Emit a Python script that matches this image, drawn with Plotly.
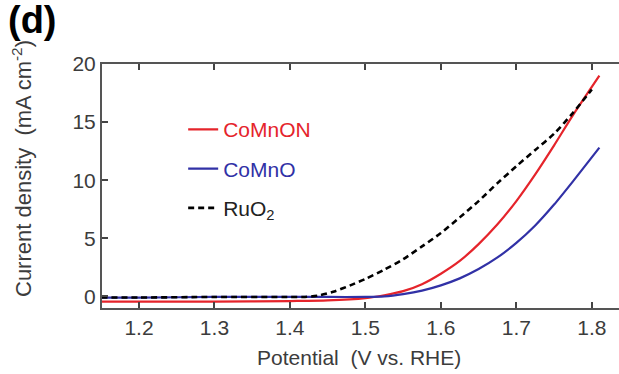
import plotly.graph_objects as go

# ---- data ----
red_x = [1.15, 1.20, 1.30, 1.40, 1.45, 1.50, 1.525, 1.55, 1.575, 1.60, 1.625, 1.65, 1.675, 1.70, 1.725, 1.75, 1.775, 1.81]
red_y = [-0.45, -0.45, -0.45, -0.40, -0.35, -0.15, 0.10, 0.45, 1.05, 1.95, 3.05, 4.50, 6.20, 8.20, 10.50, 13.00, 15.60, 19.00]

blue_x = [1.15, 1.20, 1.30, 1.40, 1.45, 1.50, 1.525, 1.55, 1.575, 1.60, 1.625, 1.65, 1.675, 1.70, 1.725, 1.75, 1.775, 1.81]
blue_y = [-0.10, -0.10, -0.05, -0.05, -0.05, -0.05, 0.00, 0.20, 0.50, 0.95, 1.55, 2.35, 3.35, 4.60, 6.10, 7.90, 9.90, 12.80]

black_x = [1.15, 1.20, 1.30, 1.40, 1.42, 1.44, 1.46, 1.48, 1.50, 1.525, 1.55, 1.575, 1.60, 1.625, 1.65, 1.675, 1.70, 1.725, 1.75, 1.775, 1.80]
black_y = [-0.10, -0.10, -0.05, -0.05, -0.05, 0.10, 0.45, 0.95, 1.50, 2.30, 3.20, 4.30, 5.45, 6.80, 8.20, 9.75, 11.20, 12.60, 14.00, 15.80, 17.80]

x_ticks = [1.2, 1.3, 1.4, 1.5, 1.6, 1.7, 1.8]
y_ticks = [0, 5, 10, 15, 20]

RED = "#e5242b"
BLUE = "#3131a6"
TXT = "#3c3c3c"
FONT = "Arial, Liberation Sans, sans-serif"

fig = go.Figure()
fig.add_trace(go.Scatter(x=red_x, y=red_y, mode="lines",
                         line=dict(color=RED, width=2.2, shape="spline", smoothing=0.7),
                         name=f"<span style='color:{RED}'>CoMnON</span>", legendgroup="a"))
fig.add_trace(go.Scatter(x=blue_x, y=blue_y, mode="lines",
                         line=dict(color=BLUE, width=2.2, shape="spline", smoothing=0.7),
                         name=f"<span style='color:{BLUE}'>CoMnO</span>", legendgroup="b"))
fig.add_trace(go.Scatter(x=black_x, y=black_y, mode="lines",
                         line=dict(color="black", width=2.6, dash="6px,4px", shape="spline", smoothing=0.7),
                         name="RuO<sub>2</sub>", legendgroup="c"))

fig.update_layout(
    width=619, height=374,
    margin=dict(l=102, r=0, t=64, b=66),
    paper_bgcolor="white", plot_bgcolor="white",
    font=dict(family=FONT, size=21, color=TXT),
    showlegend=True,
    legend=dict(x=0.157, y=0.815, xanchor="left", yanchor="top", bgcolor="rgba(0,0,0,0)",
                font=dict(size=21, color="#222"), traceorder="grouped", tracegroupgap=9,
                itemwidth=30),
    xaxis=dict(range=[1.151, 1.836], tickvals=x_ticks, ticktext=[f"{v:.1f}" for v in x_ticks],
               ticks="inside", ticklen=6, tickwidth=1.5, tickcolor="#444",
               showline=True, linecolor="#555", linewidth=2, mirror="ticks",
               showgrid=False, zeroline=False, tickfont=dict(size=21, color=TXT)),
    yaxis=dict(range=[-1.0, 20], tickvals=y_ticks,
               ticks="inside", ticklen=6, tickwidth=1.5, tickcolor="#444",
               showline=True, linecolor="#555", linewidth=2, mirror=False,
               showgrid=False, zeroline=False, tickfont=dict(size=21, color=TXT)),
    annotations=[
        dict(text="<b>(d)</b>", x=0.0, y=1.0, xref="paper", yref="paper", xanchor="left", yanchor="top",
             showarrow=False, font=dict(size=38, color="black", family=FONT), xshift=-96, yshift=67),
        dict(text="Potential  (V vs. RHE)", x=0.5, y=0, xref="paper", yref="paper", xanchor="center", yanchor="middle",
             showarrow=False, font=dict(size=21, color=TXT), yshift=-49, xshift=-2),
        dict(text="Current density  (mA cm<sup>-2</sup>)", x=0, y=0.5, xref="paper", yref="paper",
             xanchor="center", yanchor="middle", textangle=-90, showarrow=False,
             font=dict(size=22, color=TXT), xshift=-80, yshift=17),
    ],
)

fig.write_html("out.html")
